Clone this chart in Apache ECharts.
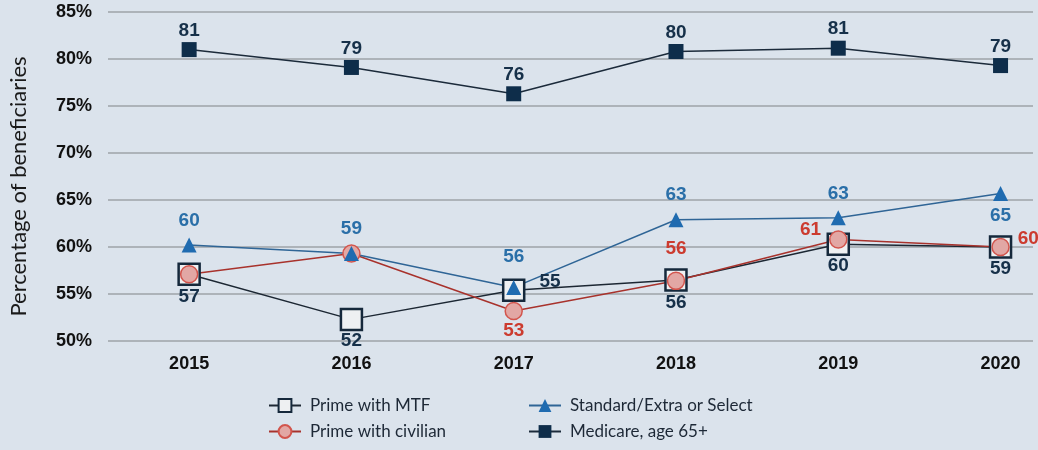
<!DOCTYPE html>
<html>
<head>
<meta charset="utf-8">
<script src="https://cdn.jsdelivr.net/npm/echarts@6/dist/echarts.min.js"></script>
<style>
html,body{margin:0;padding:0;background:#dbe3ec;}
#c{width:1038px;height:450px;}
</style>
</head>
<body>
<div id="c"></div>
<script>
var years = [2015, 2016, 2017, 2018, 2019, 2020];
var seriesNames = ['Prime with MTF', 'Prime with civilian', 'Standard/Extra or Select', 'Medicare, age 65+'];
var mtfValues = [57.1, 52.3, 55.4, 56.5, 60.3, 60.0];
var civilianValues = [57.1, 59.3, 53.2, 56.4, 60.8, 60.0];
var standardValues = [60.2, 59.3, 55.7, 62.9, 63.1, 65.7];
var medicareValues = [81.0, 79.1, 76.3, 80.8, 81.15, 79.3];
var mtfLabels = ['57', '52', '55', '56', '60', '59'];
var civilianLabels = ['', '', '53', '56', '61', '60'];
var standardLabels = ['60', '59', '56', '63', '63', '65'];
var medicareLabels = ['81', '79', '76', '80', '81', '79'];
var yTicks = {min: 50, max: 85, step: 5};

var BOLD = "'Liberation Sans',Arial,sans-serif";
var HUMAN = "Lato,'Open Sans',sans-serif";

function build(values, labels, positions) {
  return values.map(function (v, i) {
    var p = positions[i];
    return {
      value: [years[i], v],
      label: {
        show: labels[i] !== '',
        formatter: labels[i],
        position: p[0],
        distance: p[1],
        offset: p[2] || [0, 0]
      }
    };
  });
}

var labelFont = {fontFamily: BOLD, fontWeight: 'bold', fontSize: 19};

var chart = echarts.init(document.getElementById('c'), null, {renderer: 'canvas'});
chart.setOption({
  backgroundColor: '#dbe3ec',
  animation: false,
  grid: {left: 108, right: 5, top: 12, bottom: 109, outerBoundsMode: 'none', containLabel: false},
  xAxis: {
    type: 'value',
    min: 2014.5,
    max: 2020.2,
    interval: 0.5,
    axisLine: {show: false},
    axisTick: {show: false},
    splitLine: {show: false},
    axisLabel: {
      margin: 14,
      color: '#111',
      fontFamily: BOLD,
      fontWeight: 'bold',
      fontSize: 18,
      showMaxLabel: false,
      formatter: function (v) { return Math.abs(v - Math.round(v)) < 1e-6 ? String(Math.round(v)) : ''; }
    }
  },
  yAxis: {
    type: 'value',
    min: yTicks.min,
    max: yTicks.max,
    interval: yTicks.step,
    name: 'Percentage of beneficiaries',
    nameLocation: 'middle',
    nameGap: 78,
    nameTextStyle: {fontFamily: HUMAN, fontSize: 22, color: '#1a1a1a', padding: [0, 20, 0, 0]},
    axisLine: {show: false},
    axisTick: {show: false},
    splitLine: {lineStyle: {color: '#9ea3a9', width: 1.5}},
    axisLabel: {
      margin: 16,
      color: '#111',
      fontFamily: BOLD,
      fontWeight: 'bold',
      fontSize: 18,
      formatter: '{value}%'
    }
  },
  legend: [
    {
      data: [seriesNames[0], seriesNames[1]],
      orient: 'vertical',
      left: 263,
      top: 392,
      itemWidth: 32,
      itemHeight: 16,
      itemGap: 9,
      textStyle: {fontFamily: HUMAN, fontSize: 17, color: '#1d2836', padding: [0, 0, 0, 4]}
    },
    {
      data: [seriesNames[2], seriesNames[3]],
      orient: 'vertical',
      left: 523,
      top: 392,
      itemWidth: 32,
      itemHeight: 16,
      itemGap: 9,
      textStyle: {fontFamily: HUMAN, fontSize: 17, color: '#1d2836', padding: [0, 0, 0, 4]}
    }
  ],
  series: [
    {
      name: seriesNames[0],
      type: 'line',
      symbol: 'rect',
      symbolSize: 21,
      lineStyle: {color: '#1c2733', width: 1.5},
      itemStyle: {color: '#eef0f2', borderColor: '#15283b', borderWidth: 2.5},
      label: Object.assign({color: '#163049'}, labelFont),
      data: build(mtfValues, mtfLabels, [
        ['bottom', 1], ['bottom', 0], ['right', 14, [0, -8]], ['bottom', 2], ['bottom', 0], ['bottom', 1]
      ])
    },
    {
      name: seriesNames[1],
      type: 'line',
      symbol: 'circle',
      symbolSize: 17,
      lineStyle: {color: '#a8322c', width: 1.5},
      itemStyle: {color: '#e2a7a4', borderColor: '#d2554d', borderWidth: 1.5},
      label: Object.assign({color: '#cc3b2f'}, labelFont),
      data: build(civilianValues, civilianLabels, [
        ['bottom', 5], ['bottom', 5], ['bottom', 1], ['top', 13], ['left', 8, [0, -10]], ['right', 8, [0, -8]]
      ])
    },
    {
      name: seriesNames[2],
      type: 'line',
      symbol: 'triangle',
      symbolSize: 15,
      lineStyle: {color: '#2f6596', width: 1.5},
      itemStyle: {color: '#1f6bb0'},
      label: Object.assign({color: '#2a6fa8'}, labelFont),
      data: build(standardValues, standardLabels, [
        ['top', 7], ['top', 8], ['top', 14], ['top', 8], ['top', 7], ['bottom', 5]
      ])
    },
    {
      name: seriesNames[3],
      type: 'line',
      symbol: 'rect',
      symbolSize: 15,
      lineStyle: {color: '#1b2a3a', width: 1.5},
      itemStyle: {color: '#0e2d4a'},
      label: Object.assign({color: '#163049'}, labelFont),
      data: build(medicareValues, medicareLabels, [
        ['top', 2], ['top', 2], ['top', 2], ['top', 2], ['top', 2], ['top', 2]
      ])
    }
  ]
});
</script>
</body>
</html>
